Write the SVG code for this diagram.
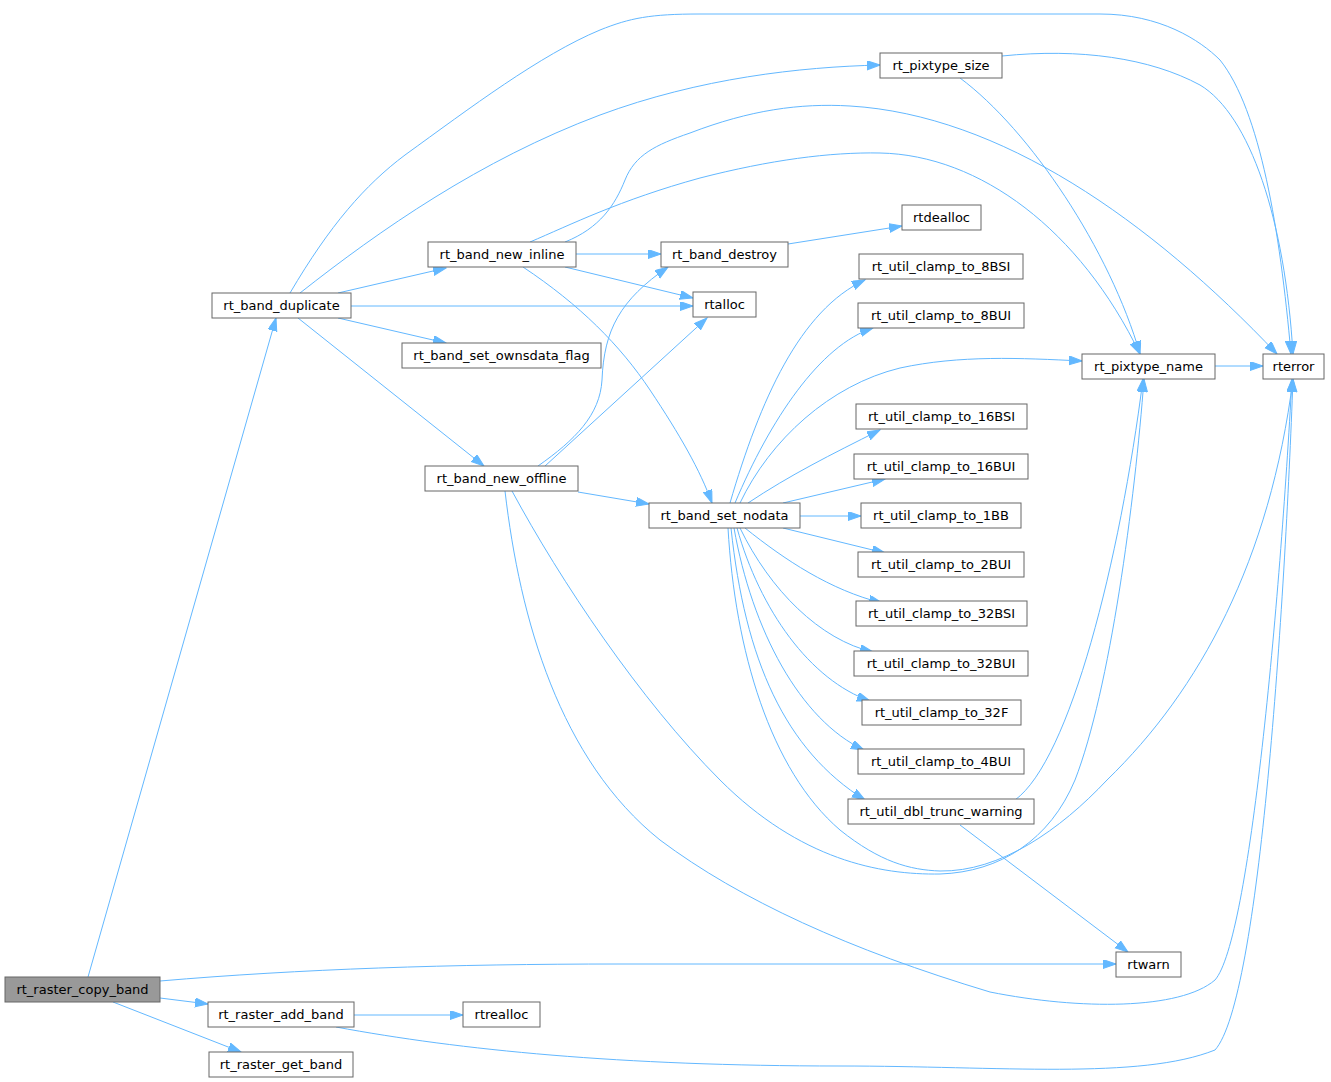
<svg xmlns="http://www.w3.org/2000/svg" width="1331" height="1082" viewBox="0 0 1331 1082">
<defs>
<style>
.n rect{fill:#ffffff;stroke:#666666;stroke-width:1}
.n.root rect{fill:#999999}
.n text{font-family:"DejaVu Sans",sans-serif;font-size:13px;fill:#000000;text-anchor:middle}
.e path{fill:none;stroke:#63b8ff;stroke-width:1}
</style>
<marker id="a" markerUnits="userSpaceOnUse" markerWidth="14" markerHeight="10" refX="13" refY="4.5" orient="auto">
<path d="M0,0 L13,4.5 L0,9 z" fill="#63b8ff" stroke="#63b8ff" stroke-width="1"/>
</marker>
</defs>
<rect width="1331" height="1082" fill="#ffffff"/>
<g class="e" id="edges">
<path marker-end="url(#a)" d="M88,977 L276,318"/>
<path marker-end="url(#a)" d="M160,981 C300,969 450,964 620,964 L1116,964"/>
<path marker-end="url(#a)" d="M160,998 L208,1004"/>
<path marker-end="url(#a)" d="M113,1002 L241,1052"/>
<path marker-end="url(#a)" d="M354,1015 L463,1015"/>
<path marker-end="url(#a)" d="M336,1027 C460,1050 620,1066 840,1066 C1000,1066 1140,1080 1215,1050 C1260,1000 1285,600 1293,379"/>
<path marker-end="url(#a)" d="M290,293 C330,225 365,185 405,155 C470,108 540,55 600,30 C630,18 650,14 700,14 L1100,14 C1160,14 1200,40 1220,60 C1260,110 1280,230 1291,354"/>
<path marker-end="url(#a)" d="M300,293 C380,230 480,160 600,115 C700,78 800,67 880,65"/>
<path marker-end="url(#a)" d="M338,293 L446,268"/>
<path marker-end="url(#a)" d="M351,306 L693,306"/>
<path marker-end="url(#a)" d="M338,318 L446,343"/>
<path marker-end="url(#a)" d="M298,318 L484,466"/>
<path marker-end="url(#a)" d="M565,242 C600,228 615,205 625,180 C635,155 655,145 690,133 C750,110 800,103 850,106 C1000,115 1150,220 1277,354"/>
<path marker-end="url(#a)" d="M530,242 C570,225 620,200 700,178 C770,160 830,152 880,153 C980,155 1080,230 1140,354"/>
<path marker-end="url(#a)" d="M576,254 L661,254"/>
<path marker-end="url(#a)" d="M565,267 L693,298"/>
<path marker-end="url(#a)" d="M523,267 C580,305 620,345 650,390 C680,435 700,470 712,503"/>
<path marker-end="url(#a)" d="M538,466 C575,440 600,415 602,380 C604,330 620,300 668,267"/>
<path marker-end="url(#a)" d="M545,466 L707,318"/>
<path marker-end="url(#a)" d="M578,492 L649,504"/>
<path marker-end="url(#a)" d="M505,491 C520,620 560,760 660,840 C740,900 850,950 990,992 C1080,1010 1180,1010 1215,980 C1250,940 1280,600 1292,379"/>
<path marker-end="url(#a)" d="M512,491 C560,580 640,700 720,780 C800,860 880,875 940,874 C1000,872 1050,840 1075,780 C1110,690 1135,500 1144,379"/>
<path marker-end="url(#a)" d="M728,528 C735,650 770,770 840,830 C880,862 910,870 940,871 C1000,872 1060,830 1107,780 C1200,690 1270,560 1293,379"/>
<path marker-end="url(#a)" d="M730,503 C760,400 800,310 865,280"/>
<path marker-end="url(#a)" d="M735,503 C770,420 820,345 873,328"/>
<path marker-end="url(#a)" d="M740,503 C770,440 830,385 900,368 C960,355 1020,358 1082,361"/>
<path marker-end="url(#a)" d="M748,503 C790,475 830,455 880,430"/>
<path marker-end="url(#a)" d="M783,503 L885,479"/>
<path marker-end="url(#a)" d="M800,516 L861,516"/>
<path marker-end="url(#a)" d="M783,528 L885,553"/>
<path marker-end="url(#a)" d="M745,528 C785,560 830,590 882,603"/>
<path marker-end="url(#a)" d="M740,528 C770,590 820,640 873,652"/>
<path marker-end="url(#a)" d="M737,528 C760,610 810,680 870,701"/>
<path marker-end="url(#a)" d="M734,528 C752,630 800,720 864,750"/>
<path marker-end="url(#a)" d="M731,528 C745,660 785,750 865,800"/>
<path marker-end="url(#a)" d="M960,825 L1128,952"/>
<path marker-end="url(#a)" d="M1015,800 C1070,760 1120,560 1143,379"/>
<path marker-end="url(#a)" d="M1215,366 L1263,366"/>
<path marker-end="url(#a)" d="M1002,56 C1080,48 1150,58 1200,85 C1250,115 1285,220 1293,354"/>
<path marker-end="url(#a)" d="M960,78 C1030,130 1110,250 1140,354"/>
<path marker-end="url(#a)" d="M788,244 L902,226"/>
</g>
<g class="n root" id="rt_raster_copy_band"><rect x="5" y="977" width="155" height="25"/><text x="82.5" y="994">rt_raster_copy_band</text></g>
<g class="n" id="rt_raster_add_band"><rect x="208" y="1002" width="146" height="25"/><text x="281" y="1019">rt_raster_add_band</text></g>
<g class="n" id="rt_raster_get_band"><rect x="209" y="1052" width="144" height="25"/><text x="281" y="1069">rt_raster_get_band</text></g>
<g class="n" id="rtrealloc"><rect x="463" y="1002" width="77" height="25"/><text x="501.5" y="1019">rtrealloc</text></g>
<g class="n" id="rtwarn"><rect x="1116" y="952" width="65" height="25"/><text x="1148.5" y="969">rtwarn</text></g>
<g class="n" id="rt_band_duplicate"><rect x="212" y="293" width="139" height="25"/><text x="281.5" y="310">rt_band_duplicate</text></g>
<g class="n" id="rt_band_new_inline"><rect x="428" y="242" width="148" height="25"/><text x="502" y="259">rt_band_new_inline</text></g>
<g class="n" id="rt_band_set_ownsdata_flag"><rect x="402" y="343" width="199" height="25"/><text x="501.5" y="360">rt_band_set_ownsdata_flag</text></g>
<g class="n" id="rt_band_new_offline"><rect x="425" y="466" width="153" height="25"/><text x="501.5" y="483">rt_band_new_offline</text></g>
<g class="n" id="rt_band_set_nodata"><rect x="649" y="503" width="151" height="25"/><text x="724.5" y="520">rt_band_set_nodata</text></g>
<g class="n" id="rt_band_destroy"><rect x="661" y="242" width="127" height="25"/><text x="724.5" y="259">rt_band_destroy</text></g>
<g class="n" id="rtalloc"><rect x="693" y="292" width="63" height="25"/><text x="724.5" y="309">rtalloc</text></g>
<g class="n" id="rtdealloc"><rect x="902" y="205" width="79" height="25"/><text x="941.5" y="222">rtdealloc</text></g>
<g class="n" id="rt_pixtype_size"><rect x="880" y="53" width="122" height="25"/><text x="941" y="70">rt_pixtype_size</text></g>
<g class="n" id="rt_pixtype_name"><rect x="1082" y="354" width="133" height="25"/><text x="1148.5" y="371">rt_pixtype_name</text></g>
<g class="n" id="rterror"><rect x="1263" y="354" width="61" height="25"/><text x="1293.5" y="371">rterror</text></g>
<g class="n" id="rt_util_clamp_to_8BSI"><rect x="859" y="254" width="164" height="25"/><text x="941" y="271">rt_util_clamp_to_8BSI</text></g>
<g class="n" id="rt_util_clamp_to_8BUI"><rect x="858" y="303" width="166" height="25"/><text x="941" y="320">rt_util_clamp_to_8BUI</text></g>
<g class="n" id="rt_util_clamp_to_16BSI"><rect x="856" y="404" width="171" height="25"/><text x="941.5" y="421">rt_util_clamp_to_16BSI</text></g>
<g class="n" id="rt_util_clamp_to_16BUI"><rect x="854" y="454" width="174" height="25"/><text x="941" y="471">rt_util_clamp_to_16BUI</text></g>
<g class="n" id="rt_util_clamp_to_1BB"><rect x="861" y="503" width="160" height="25"/><text x="941" y="520">rt_util_clamp_to_1BB</text></g>
<g class="n" id="rt_util_clamp_to_2BUI"><rect x="858" y="552" width="166" height="25"/><text x="941" y="569">rt_util_clamp_to_2BUI</text></g>
<g class="n" id="rt_util_clamp_to_32BSI"><rect x="856" y="601" width="171" height="25"/><text x="941.5" y="618">rt_util_clamp_to_32BSI</text></g>
<g class="n" id="rt_util_clamp_to_32BUI"><rect x="854" y="651" width="174" height="25"/><text x="941" y="668">rt_util_clamp_to_32BUI</text></g>
<g class="n" id="rt_util_clamp_to_32F"><rect x="862" y="700" width="159" height="25"/><text x="941.5" y="717">rt_util_clamp_to_32F</text></g>
<g class="n" id="rt_util_clamp_to_4BUI"><rect x="858" y="749" width="166" height="25"/><text x="941" y="766">rt_util_clamp_to_4BUI</text></g>
<g class="n" id="rt_util_dbl_trunc_warning"><rect x="848" y="799" width="186" height="25"/><text x="941" y="816">rt_util_dbl_trunc_warning</text></g>
</svg>
